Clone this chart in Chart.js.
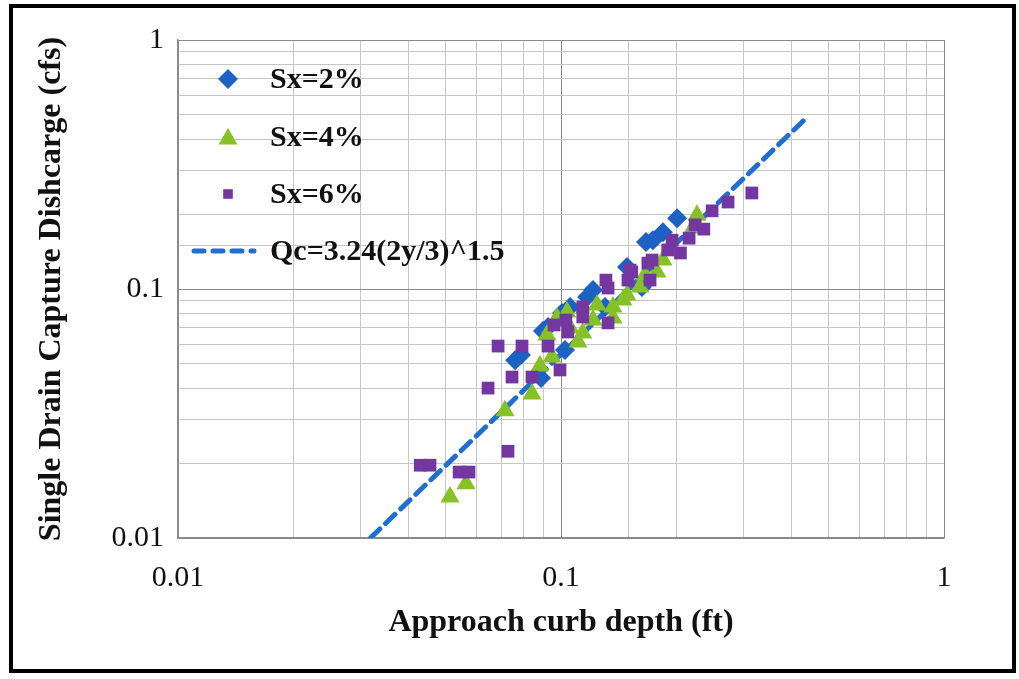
<!DOCTYPE html>
<html>
<head>
<meta charset="utf-8">
<script src="https://cdn.jsdelivr.net/npm/chart.js@4.4.1/dist/chart.umd.min.js"></script>
<style>
  body { margin: 0; background: #fff; }
  #wrap { position: relative; width: 1019px; height: 679px; }
  #frame {
    position: absolute; left: 9px; top: 4px; right: 3px; bottom: 6px;
    border: 4px solid #000; box-sizing: border-box; pointer-events: none;
  }
</style>
</head>
<body>
<div id="wrap">
  <canvas id="qcChart" width="1019" height="679"></canvas>
  <div id="frame"></div>
</div>
<script>
// approach curb depth (ft) / single drain capture discharge (cfs)
const sx2Depth = [0.0759, 0.0786, 0.0897, 0.0925, 0.1006, 0.1056, 0.117, 0.1212, 0.1303, 0.1487, 0.1627, 0.1667, 0.1738, 0.1846, 0.201, 0.0887, 0.1024];
const sx2Flow  = [0.0518, 0.0543, 0.0678, 0.0704, 0.0801, 0.0847, 0.0929, 0.099, 0.0847, 0.1226, 0.1019, 0.1545, 0.157, 0.169, 0.1925, 0.0439, 0.0569];

const sx4Depth = [0.0513, 0.0565, 0.0714, 0.084, 0.0881, 0.0947, 0.0976, 0.1037, 0.1108, 0.114, 0.1212, 0.1242, 0.1367, 0.1367, 0.1452, 0.1487, 0.1608, 0.1657, 0.178, 0.1846, 0.221, 0.2265, 0.1056, 0.0919];
const sx4Flow  = [0.0146, 0.0165, 0.0324, 0.0379, 0.0491, 0.0533, 0.0765, 0.0808, 0.0613, 0.0666, 0.0751, 0.0863, 0.0765, 0.0847, 0.0903, 0.0946, 0.1019, 0.1137, 0.117, 0.1307, 0.1758, 0.198, 0.0697, 0.0654];

const sx6Depth = [0.0429, 0.0455, 0.0542, 0.0575, 0.0727, 0.0645, 0.0685, 0.0791, 0.0925, 0.0745, 0.084, 0.0994, 0.0959, 0.1042, 0.103, 0.114, 0.114, 0.1327, 0.1327, 0.131, 0.1514, 0.1496, 0.1708, 0.1729, 0.19, 0.195, 0.205, 0.216, 0.224, 0.236, 0.248, 0.273, 0.315, 0.1686, 0.153];
const sx6Flow  = [0.0196, 0.0196, 0.0184, 0.0184, 0.0223, 0.040, 0.059, 0.059, 0.059, 0.0443, 0.0443, 0.0473, 0.0717, 0.0672, 0.0751, 0.0847, 0.0772, 0.1009, 0.0731, 0.1086, 0.1191, 0.1086, 0.1086, 0.1307, 0.1435, 0.157, 0.1395, 0.160, 0.181, 0.174, 0.206, 0.2235, 0.243, 0.127, 0.117];

// Qc = 3.24(2y/3)^1.5 line, end points
const lineDepth = [0.0318, 0.43];
const lineFlow  = [0.01, 0.475];

const xTickLabels = ['0.01', '0.1', '1'];
const yTickLabels = ['0.01', '0.1', '1'];

const seriesNames = ['Sx=2%', 'Sx=4%', 'Sx=6%', 'Qc=3.24(2y/3)^1.5'];

const BLUE = '#1c62c4';
const GREEN = '#86c226';
const PURPLE = '#7436a0';
const LINE_BLUE = '#1f6fd2';

function pts(xs, ys) {
    return xs.map((x, i) => ({ x: x, y: ys[i] }));
}

function isDecade(v) {
    const l = Math.log10(v);
    return Math.abs(l - Math.round(l)) < 1e-6;
}

function decadeLabel(labels) {
    return function (value) {
        if (!isDecade(value)) return '';
        const idx = Math.round(Math.log10(value)) + 2;
        return labels[idx] !== undefined ? labels[idx] : '';
    };
}

function gridColor(ctx) {
    if (!ctx.tick) return '#c4c4c4';
    return isDecade(ctx.tick.value) ? '#8a8a8a' : '#c6c6c6';
}

function drawMarker(ctx, style, x, y, r, color) {
    ctx.save();
    ctx.fillStyle = color;
    ctx.beginPath();
    if (style === 'rectRot') {
        ctx.moveTo(x, y - r);
        ctx.lineTo(x + r, y);
        ctx.lineTo(x, y + r);
        ctx.lineTo(x - r, y);
    } else if (style === 'triangle') {
        ctx.moveTo(x, y - r);
        ctx.lineTo(x + r * 0.866, y + r * 0.5);
        ctx.lineTo(x - r * 0.866, y + r * 0.5);
    } else {
        ctx.rect(x - r * 0.6, y - r * 0.6, r * 1.2, r * 1.2);
    }
    ctx.closePath();
    ctx.fill();
    ctx.restore();
}

// legend sits inside the plot area, upper left
const insideLegend = {
    id: 'insideLegend',
    afterDraw(chart) {
        const ctx = chart.ctx;
        const rows = [79, 137, 194, 251];
        drawMarker(ctx, 'rectRot', 228, rows[0], 10, BLUE);
        drawMarker(ctx, 'triangle', 228, rows[1] + 2, 11, GREEN);
        drawMarker(ctx, 'rect', 228, rows[2], 8, PURPLE);
        ctx.save();
        ctx.strokeStyle = LINE_BLUE;
        ctx.lineWidth = 5;
        ctx.lineCap = 'round';
        ctx.setLineDash([10, 9]);
        ctx.beginPath();
        ctx.moveTo(194, rows[3]);
        ctx.lineTo(254, rows[3]);
        ctx.stroke();
        ctx.restore();

        ctx.save();
        ctx.fillStyle = '#111';
        ctx.font = 'bold 30px "Liberation Serif", "Times New Roman", serif';
        ctx.textBaseline = 'middle';
        ctx.textAlign = 'left';
        seriesNames.forEach((name, i) => ctx.fillText(name, 270, rows[i] + 1));
        ctx.restore();
    }
};

const ctx = document.getElementById('qcChart').getContext('2d');

new Chart(ctx, {
    type: 'scatter',
    data: {
        datasets: [
            {
                label: seriesNames[0],
                data: pts(sx2Depth, sx2Flow),
                pointStyle: 'rectRot',
                pointRadius: 10,
                backgroundColor: BLUE,
                borderColor: BLUE,
                borderWidth: 0,
                order: 2
            },
            {
                label: seriesNames[1],
                data: pts(sx4Depth, sx4Flow),
                pointStyle: 'triangle',
                pointRadius: 11,
                backgroundColor: GREEN,
                borderColor: GREEN,
                borderWidth: 0,
                order: 1
            },
            {
                label: seriesNames[2],
                data: pts(sx6Depth, sx6Flow),
                pointStyle: 'rect',
                pointRadius: 9,
                backgroundColor: PURPLE,
                borderColor: PURPLE,
                borderWidth: 0,
                order: 0
            },
            {
                label: seriesNames[3],
                type: 'line',
                data: pts(lineDepth, lineFlow),
                borderColor: LINE_BLUE,
                borderWidth: 5,
                borderDash: [13, 8],
                borderCapStyle: 'round',
                pointRadius: 0,
                fill: false,
                order: 3
            }
        ]
    },
    options: {
        responsive: false,
        animation: false,
        layout: {
            padding: { left: 0, right: 75, top: 40, bottom: 0 }
        },
        plugins: {
            legend: { display: false },
            tooltip: { enabled: false }
        },
        scales: {
            x: {
                type: 'logarithmic',
                position: 'bottom',
                min: 0.01,
                max: 1,
                grid: { color: gridColor, lineWidth: 1, drawTicks: false },
                border: { color: '#8a8a8a', width: 1.5 },
                ticks: {
                    autoSkip: false,
                    maxRotation: 0,
                    padding: 22,
                    color: '#111',
                    font: { family: 'Liberation Serif', size: 30 },
                    callback: decadeLabel(xTickLabels)
                },
                title: {
                    display: true,
                    text: 'Approach curb depth (ft)',
                    color: '#111',
                    font: { family: 'Liberation Serif', size: 32, weight: 'bold' },
                    padding: { top: 0, bottom: 37 }
                },
                afterFit(scale) { scale.height = 141; }
            },
            y: {
                type: 'logarithmic',
                min: 0.01,
                max: 1,
                grid: { color: gridColor, lineWidth: 1, drawTicks: false },
                border: { color: '#8a8a8a', width: 1.5 },
                ticks: {
                    autoSkip: false,
                    padding: 14,
                    color: '#111',
                    font: { family: 'Liberation Serif', size: 30 },
                    callback: decadeLabel(yTickLabels)
                },
                title: {
                    display: true,
                    text: 'Single Drain Capture Dishcarge (cfs)',
                    color: '#111',
                    font: { family: 'Liberation Serif', size: 32, weight: 'bold' },
                    padding: { top: 33, bottom: 0 }
                },
                afterFit(scale) { scale.width = 178; }
            }
        }
    },
    plugins: [insideLegend]
});
</script>
</body>
</html>
